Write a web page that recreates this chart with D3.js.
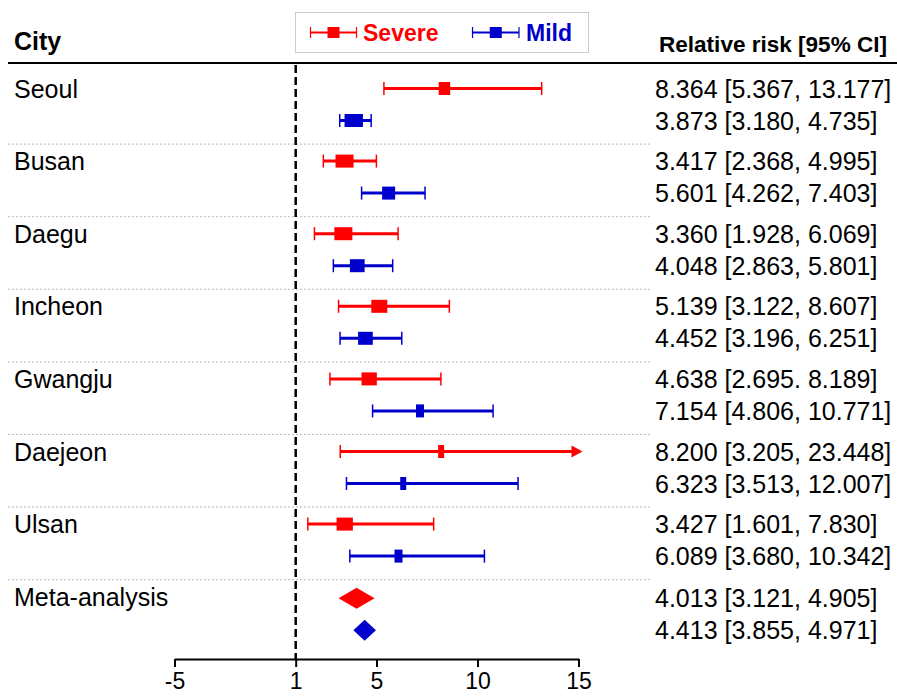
<!DOCTYPE html>
<html>
<head>
<meta charset="utf-8">
<script src="https://cdn.jsdelivr.net/npm/d3@7"></script>
<style>
  body { margin: 0; background: #fff; }
  text { font-family: "Liberation Sans", Arial, sans-serif; }
</style>
</head>
<body>
<script>
// rows, top to bottom
var cities = ["Seoul", "Busan", "Daegu", "Incheon", "Gwangju", "Daejeon", "Ulsan", "Meta-analysis"];

var severeRR = [8.364, 3.417, 3.360, 5.139, 4.638, 8.200, 3.427, 4.013];
var severeLo = [5.367, 2.368, 1.928, 3.122, 2.695, 3.205, 1.601, 3.121];
var severeHi = [13.177, 4.995, 6.069, 8.607, 8.189, 23.448, 7.830, 4.905];
var severeText = ["8.364 [5.367, 13.177]", "3.417 [2.368, 4.995]", "3.360 [1.928, 6.069]",
  "5.139 [3.122, 8.607]", "4.638 [2.695. 8.189]", "8.200 [3.205, 23.448]",
  "3.427 [1.601, 7.830]", "4.013 [3.121, 4.905]"];

var mildRR = [3.873, 5.601, 4.048, 4.452, 7.154, 6.323, 6.089, 4.413];
var mildLo = [3.180, 4.262, 2.863, 3.196, 4.806, 3.513, 3.680, 3.855];
var mildHi = [4.735, 7.403, 5.801, 6.251, 10.771, 12.007, 10.342, 4.971];
var mildText = ["3.873 [3.180, 4.735]", "5.601 [4.262, 7.403]", "4.048 [2.863, 5.801]",
  "4.452 [3.196, 6.251]", "7.154 [4.806, 10.771]", "6.323 [3.513, 12.007]",
  "6.089 [3.680, 10.342]", "4.413 [3.855, 4.971]"];

// study weights (marker width), cities only
var severeWt = [11.5, 18, 18, 16, 15.3, 6, 16.3];
var mildWt = [18.4, 13, 14.7, 14.7, 8, 6, 8];

var xTicks = [-5, 1, 5, 10, 15];

var width = 897, height = 697;
var red = "#ff0000", blue = "#0000cc";

var svg = d3.select("body").append("svg")
  .attr("width", width)
  .attr("height", height);

var x = d3.scaleLinear().domain([-5, 15]).range([174.5, 578.5]);
// group index -> top of the group band
var y = d3.scaleLinear().domain([0, 8]).range([71.5, 71.5 + 8 * 72.6]);
var rowOff = { severe: 17, mild: 49 };
var wScale = d3.scaleLinear().domain([0, 20]).range([0, 20]);

// header
svg.append("text").text("City")
  .attr("x", 14).attr("y", 50)
  .attr("font-size", 25).attr("font-weight", "bold");
svg.append("text").text("Relative risk [95% CI]")
  .attr("x", 659).attr("y", 52)
  .attr("font-size", 22).attr("font-weight", "bold")
  .attr("textLength", 228).attr("lengthAdjust", "spacingAndGlyphs");
svg.append("line")
  .attr("x1", 8).attr("x2", width).attr("y1", 63).attr("y2", 63)
  .attr("stroke", "#000").attr("stroke-width", 2);

// dotted separators
svg.selectAll("line.sep")
  .data(d3.range(1, cities.length))
  .enter().append("line")
  .attr("class", "sep")
  .attr("x1", 8).attr("x2", 650)
  .attr("y1", function(d) { return y(d); })
  .attr("y2", function(d) { return y(d); })
  .attr("stroke", "#bbb").attr("stroke-width", 1)
  .attr("stroke-dasharray", "2,2");

// reference line at 1
svg.append("line")
  .attr("x1", x(1)).attr("x2", x(1))
  .attr("y1", 65).attr("y2", 659)
  .attr("stroke", "#000").attr("stroke-width", 2.5)
  .attr("stroke-dasharray", "8,4");

// city labels
svg.selectAll("text.city")
  .data(cities)
  .enter().append("text")
  .attr("class", "city")
  .attr("x", 14)
  .attr("y", function(d, i) { return y(i) + rowOff.severe + 9; })
  .attr("font-size", 25)
  .text(function(d) { return d; });

function drawSeries(name, rr, lo, hi, wt, txt, color) {
  var off = rowOff[name];
  var n = cities.length - 1;
  var g = svg.append("g").attr("class", name);
  for (var i = 0; i < n; i++) {
    var cy = y(i) + off;
    var clipped = hi[i] > x.domain()[1];
    var xr = clipped ? x(15) - 6 : x(hi[i]);
    g.append("line")
      .attr("x1", x(lo[i])).attr("x2", xr)
      .attr("y1", cy).attr("y2", cy)
      .attr("stroke", color).attr("stroke-width", 3);
    g.append("line")
      .attr("x1", x(lo[i])).attr("x2", x(lo[i]))
      .attr("y1", cy - 6.5).attr("y2", cy + 6.5)
      .attr("stroke", color).attr("stroke-width", 1.5);
    if (clipped) {
      g.append("path")
        .attr("d", "M" + (x(15) - 7) + "," + (cy - 6) + "L" + (x(15) + 4) + "," + cy +
          "L" + (x(15) - 7) + "," + (cy + 6) + "Z")
        .attr("fill", color);
    } else {
      g.append("line")
        .attr("x1", x(hi[i])).attr("x2", x(hi[i]))
        .attr("y1", cy - 6.5).attr("y2", cy + 6.5)
        .attr("stroke", color).attr("stroke-width", 1.5);
    }
    var w = wScale(wt[i]);
    g.append("rect")
      .attr("x", x(rr[i]) - w / 2).attr("y", cy - 6.5)
      .attr("width", w).attr("height", 13)
      .attr("fill", color);
  }
  // pooled estimate diamond
  var my = y(n) + off + 1.5;
  g.append("path")
    .attr("d", "M" + x(lo[n]) + "," + my + "L" + x(rr[n]) + "," + (my - 10.5) +
      "L" + x(hi[n]) + "," + my + "L" + x(rr[n]) + "," + (my + 10.5) + "Z")
    .attr("fill", color);

  svg.selectAll("text.v" + name)
    .data(txt)
    .enter().append("text")
    .attr("class", "v" + name)
    .attr("x", 655)
    .attr("y", function(d, i) { return y(i) + off + 9 + (i == n ? 1.5 : 0); })
    .attr("font-size", 25)
    .text(function(d) { return d; });
}

drawSeries("severe", severeRR, severeLo, severeHi, severeWt, severeText, red);
drawSeries("mild", mildRR, mildLo, mildHi, mildWt, mildText, blue);

// x axis
var axis = svg.append("g")
  .attr("transform", "translate(0,659)")
  .call(d3.axisBottom(x).tickValues(xTicks).tickSize(8).tickSizeOuter(0).tickPadding(6)
    .tickFormat(function(d) { return String(d); }));
axis.select(".domain").attr("stroke-width", 2);
axis.selectAll(".tick line").attr("stroke-width", 2);
axis.selectAll(".tick text")
  .attr("font-size", 23)
  .attr("font-family", "'Liberation Sans', Arial, sans-serif")
  .attr("fill", "#000");

// legend
var leg = svg.append("g");
leg.append("rect")
  .attr("x", 295.5).attr("y", 12.5).attr("width", 293).attr("height", 40)
  .attr("fill", "#fff").attr("stroke", "#ccc");
var legItems = [
  { label: "Severe", color: red, x1: 310.5, x2: 356.5, tx: 363 },
  { label: "Mild", color: blue, x1: 472.5, x2: 519, tx: 526 }
];
legItems.forEach(function(d) {
  leg.append("line").attr("x1", d.x1).attr("x2", d.x2).attr("y1", 32.5).attr("y2", 32.5)
    .attr("stroke", d.color).attr("stroke-width", 2);
  [d.x1, d.x2].forEach(function(cx) {
    leg.append("line").attr("x1", cx).attr("x2", cx).attr("y1", 27).attr("y2", 38)
      .attr("stroke", d.color).attr("stroke-width", 1.2);
  });
  var mx = (d.x1 + d.x2) / 2;
  leg.append("rect").attr("x", mx - 6).attr("y", 27).attr("width", 12).attr("height", 11)
    .attr("fill", d.color);
  leg.append("text").text(d.label)
    .attr("x", d.tx).attr("y", 41)
    .attr("font-size", 23).attr("font-weight", "bold")
    .attr("fill", d.color);
});
</script>
</body>
</html>
